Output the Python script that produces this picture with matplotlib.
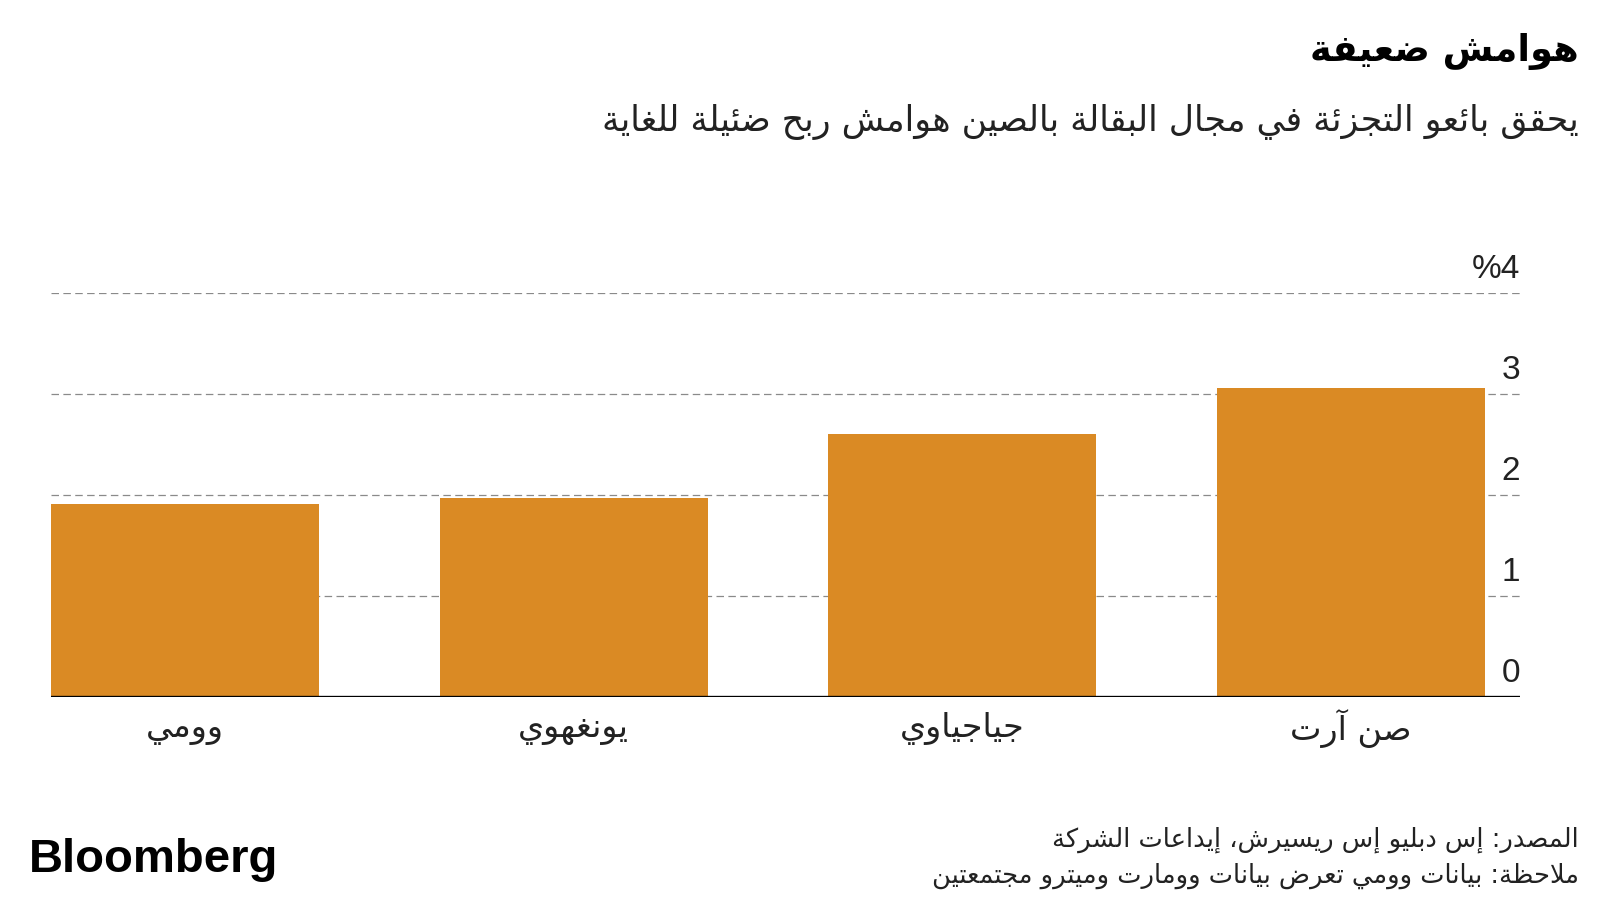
import matplotlib
matplotlib.use("Agg")
import matplotlib.pyplot as plt
from matplotlib.transforms import blended_transform_factory

# ---------------- data ----------------
categories = ["صن آرت", "جياجياوي", "يونغهوي", "وومي"]
margins = [3.06, 2.60, 1.97, 1.91]
yticks = [0, 1, 2, 3, 4]
ytick_labels = ["0", "1", "2", "3", "%4"]
title = "هوامش ضعيفة"
subtitle = "يحقق بائعو التجزئة في مجال البقالة بالصين هوامش ربح ضئيلة للغاية"
source = "المصدر: إس دبليو إس ريسيرش، إيداعات الشركة"
note = "ملاحظة: بيانات وومي تعرض بيانات وومارت وميترو مجتمعتين"

# ---------------- arabic shaping ----------------
FORMS = {
    0x0621: (0xFE80, None, None, None),
    0x0622: (0xFE81, 0xFE82, None, None),
    0x0623: (0xFE83, 0xFE84, None, None),
    0x0624: (0xFE85, 0xFE86, None, None),
    0x0625: (0xFE87, 0xFE88, None, None),
    0x0626: (0xFE89, 0xFE8A, 0xFE8B, 0xFE8C),
    0x0627: (0xFE8D, 0xFE8E, None, None),
    0x0628: (0xFE8F, 0xFE90, 0xFE91, 0xFE92),
    0x0629: (0xFE93, 0xFE94, None, None),
    0x062A: (0xFE95, 0xFE96, 0xFE97, 0xFE98),
    0x062B: (0xFE99, 0xFE9A, 0xFE9B, 0xFE9C),
    0x062C: (0xFE9D, 0xFE9E, 0xFE9F, 0xFEA0),
    0x062D: (0xFEA1, 0xFEA2, 0xFEA3, 0xFEA4),
    0x062E: (0xFEA5, 0xFEA6, 0xFEA7, 0xFEA8),
    0x062F: (0xFEA9, 0xFEAA, None, None),
    0x0630: (0xFEAB, 0xFEAC, None, None),
    0x0631: (0xFEAD, 0xFEAE, None, None),
    0x0632: (0xFEAF, 0xFEB0, None, None),
    0x0633: (0xFEB1, 0xFEB2, 0xFEB3, 0xFEB4),
    0x0634: (0xFEB5, 0xFEB6, 0xFEB7, 0xFEB8),
    0x0635: (0xFEB9, 0xFEBA, 0xFEBB, 0xFEBC),
    0x0636: (0xFEBD, 0xFEBE, 0xFEBF, 0xFEC0),
    0x0637: (0xFEC1, 0xFEC2, 0xFEC3, 0xFEC4),
    0x0638: (0xFEC5, 0xFEC6, 0xFEC7, 0xFEC8),
    0x0639: (0xFEC9, 0xFECA, 0xFECB, 0xFECC),
    0x063A: (0xFECD, 0xFECE, 0xFECF, 0xFED0),
    0x0641: (0xFED1, 0xFED2, 0xFED3, 0xFED4),
    0x0642: (0xFED5, 0xFED6, 0xFED7, 0xFED8),
    0x0643: (0xFED9, 0xFEDA, 0xFEDB, 0xFEDC),
    0x0644: (0xFEDD, 0xFEDE, 0xFEDF, 0xFEE0),
    0x0645: (0xFEE1, 0xFEE2, 0xFEE3, 0xFEE4),
    0x0646: (0xFEE5, 0xFEE6, 0xFEE7, 0xFEE8),
    0x0647: (0xFEE9, 0xFEEA, 0xFEEB, 0xFEEC),
    0x0648: (0xFEED, 0xFEEE, None, None),
    0x0649: (0xFEEF, 0xFEF0, None, None),
    0x064A: (0xFEF1, 0xFEF2, 0xFEF3, 0xFEF4),
}
LAM_ALEF = {0x0622: (0xFEF5, 0xFEF6), 0x0623: (0xFEF7, 0xFEF8),
            0x0625: (0xFEF9, 0xFEFA), 0x0627: (0xFEFB, 0xFEFC)}


def dual(c):
    f = FORMS.get(ord(c))
    return f is not None and f[2] is not None


def joins(c):
    f = FORMS.get(ord(c))
    return f is not None and f[1] is not None


def shape(text):
    chars = list(text)
    out = []
    i = 0
    n = len(chars)
    while i < n:
        c = chars[i]
        code = ord(c)
        if code not in FORMS:
            out.append(c)
            i += 1
            continue
        prev = chars[i - 1] if i > 0 else None
        conn_prev = prev is not None and dual(prev) and joins(c)
        if code == 0x0644 and i + 1 < n and ord(chars[i + 1]) in LAM_ALEF:
            iso, fin = LAM_ALEF[ord(chars[i + 1])]
            out.append(chr(fin if conn_prev else iso))
            i += 2
            continue
        nxt = chars[i + 1] if i + 1 < n else None
        conn_next = nxt is not None and dual(c) and joins(nxt)
        iso, fin, ini, med = FORMS[code]
        if conn_prev and conn_next:
            g = med
        elif conn_prev:
            g = fin
        elif conn_next:
            g = ini
        else:
            g = iso
        out.append(chr(g))
        i += 1
    return "".join(reversed(out))


# ---------------- figure ----------------
plt.rcParams["font.family"] = ["DejaVu Sans"]
W, H = 1600, 900
fig = plt.figure(figsize=(16, 9), dpi=100)
fig.patch.set_facecolor("white")

ax_left, ax_right = 51 / W, 1520 / W
ax_bottom, ax_top = 1 - 697 / H, 1 - 293 / H
ax = fig.add_axes([ax_left, ax_bottom, ax_right - ax_left, ax_top - ax_bottom])
ax.set_facecolor("none")

bar_color = "#DA8A24"
xs = list(range(len(categories)))
ax.bar(xs, margins, width=0.69, color=bar_color, zorder=3)
ax.set_xlim(3.345, -0.435)
ax.set_ylim(0, 4)

for s in ax.spines.values():
    s.set_visible(False)
ax.set_xticks([])
ax.set_yticks([])

# gridlines
for t in yticks[1:]:
    ax.axhline(t, color="#8a8a8a", lw=0.9, ls=(0, (6, 3.5)), zorder=1)
ax.axhline(0, color="black", lw=2.4, zorder=4)

trans = blended_transform_factory(ax.transAxes, ax.transData)
for t, lab in zip(yticks, ytick_labels):
    ax.text(1.0, t + 0.23, lab, transform=trans, ha="right", va="center",
            fontsize=24, color="#222222", family="Liberation Sans")

transx = blended_transform_factory(ax.transData, ax.transData)
for x, cat in zip(xs, categories):
    ax.text(x, -0.31, shape(cat), transform=transx, ha="center", va="center",
            fontsize=24, color="#222222", clip_on=False)

# titles
fig.text(1579 / W, 1 - 52 / H, shape(title), ha="right", va="center",
         fontsize=26.5, fontweight="bold", color="black")
fig.text(1579 / W, 1 - 122 / H, shape(subtitle), ha="right", va="center",
         fontsize=25, color="#222222")

# footer
fig.text(1579 / W, 1 - 840 / H, shape(source), ha="right", va="center",
         fontsize=18.5, color="#222222")
fig.text(1579 / W, 1 - 876 / H, shape(note), ha="right", va="center",
         fontsize=18.5, color="#222222")
fig.text(29 / W, 1 - 860 / H, "Bloomberg", ha="left", va="center",
         fontsize=34, fontweight="bold", color="black", family="Liberation Sans")

fig.savefig("out.png", dpi=100, facecolor="white")
